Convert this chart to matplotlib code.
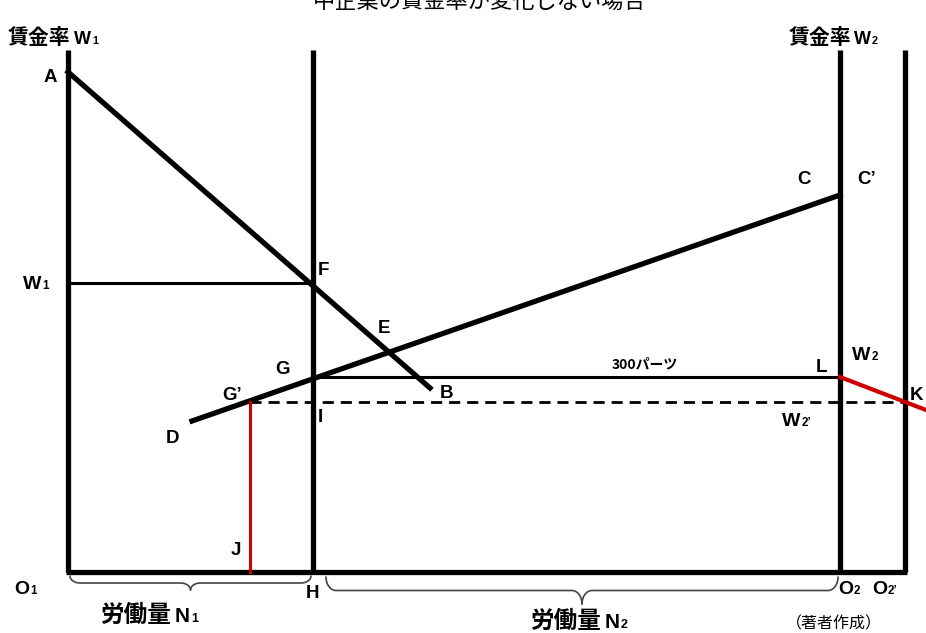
#!/usr/bin/env python3
# plot.py - wage-rate / labour diagram

import matplotlib.pyplot as plt
import numpy as np

plt.rcParams["font.family"] = ["Liberation Sans", "DejaVu Sans"]
JP = ["Noto Sans CJK JP", "DejaVu Sans"]

# diagram points (x right, y down, in pixels)
axis_x = [68, 313, 840, 905]          # O1, H, O2, O2'
axis_top = 50
axis_bottom = 572
line_AB = ([68, 430], [72, 388])
line_DC = ([192, 840], [421, 195])
line_W1F = ([68, 313], [283, 283])
line_GL = ([313, 840], [377, 377])
line_dash = ([250, 905], [402, 402])
red_JG = ([250, 250], [402, 572])
red_LK = ([840, 926], [377, 410])

labels = [
    ("A", 44, 82), ("F", 318, 275), ("E", 378, 333),
    ("G", 275, 374), ("B", 440, 398), ("G\u2019", 222, 400),
    ("D", 166, 443), ("I", 318, 422), ("J", 231, 555),
    ("C", 797, 184), ("C\u2019", 857, 184), ("L", 816, 372),
    ("K", 910, 400), ("H", 306, 598),
]
sub_labels = [
    ("W", "1", 23, 289), ("W", "2", 852, 360), ("W", "2\u2019", 782, 426),
    ("O", "1", 14, 594), ("O", "2", 838, 594), ("O", "2\u2019", 872, 594),
]


def brace(ax, x0, x1, ytop, ytip, lw=1.2):
    # curly brace opening upward, tip pointing down
    xm = (x0 + x1) / 2
    h = ytip - ytop
    r = min(10, (x1 - x0) / 8)
    t = np.linspace(0, np.pi / 2, 20)
    xs = np.concatenate([x0 + r - r * np.cos(t), np.linspace(x0 + r, xm - r, 2),
                         xm - r + r * np.sin(t)])
    ys = np.concatenate([ytop + h * 0.5 * np.sin(t), [ytop + h * 0.5] * 2,
                         ytop + h * 0.5 + h * 0.5 * (1 - np.cos(t))])
    ax.plot(xs, ys, color="#444444", lw=lw, solid_capstyle="round")
    ax.plot(2 * xm - xs, ys, color="#444444", lw=lw, solid_capstyle="round")


def sub_text(ax, main, sub, x, y, size=14):
    t = ax.text(x, y, main, fontsize=size, fontweight="bold", va="baseline")
    r = ax.figure.canvas.get_renderer()
    bb = t.get_window_extent(r)
    x1 = ax.transData.inverted().transform((bb.x1, bb.y0))[0]
    ax.text(x1 + 1, y, sub, fontsize=size * 0.6, fontweight="bold", va="baseline")


def main():
    fig = plt.figure(figsize=(9.26, 6.33), dpi=100)
    ax = fig.add_axes([0, 0, 1, 1])
    ax.set_xlim(0, 926)
    ax.set_ylim(633, 0)
    ax.axis("off")

    thick = 3.8
    for x in axis_x:
        ax.plot([x, x], [axis_top, axis_bottom], color="black", lw=thick,
                solid_capstyle="butt")
    ax.plot([axis_x[0] - 2, axis_x[-1] + 2], [axis_bottom, axis_bottom],
            color="black", lw=thick, solid_capstyle="butt")

    ax.plot(*line_AB, color="black", lw=thick)
    ax.plot(*line_DC, color="black", lw=thick)
    ax.plot(*line_W1F, color="black", lw=2.2)
    ax.plot(*line_GL, color="black", lw=2.2)
    ax.plot(*line_dash, color="black", lw=2.0, ls=(0, (4, 2.5)))
    ax.plot(*red_JG, color="#cc0000", lw=2.2)
    ax.plot(*red_LK, color="#cc0000", lw=3.0)

    brace(ax, 70, 311, 576, 590)
    brace(ax, 326, 838, 577, 604)

    for txt, x, y in labels:
        ax.text(x, y, txt, fontsize=13.5, fontweight="bold", va="baseline")
    for m, s, x, y in sub_labels:
        sub_text(ax, m, s, x, y)

    # headers
    ax.text(8, 44, "賃金率", fontsize=15, fontweight="bold", family=JP,
            va="baseline")
    sub_text(ax, "W", "1", 74, 44, size=13)
    ax.text(789, 44, "賃金率", fontsize=15, fontweight="bold", family=JP,
            va="baseline")
    sub_text(ax, "W", "2", 854, 44, size=13)

    ax.text(480, 1, "中企業の賃金率が変化しない場合", fontsize=16, family=JP,
            ha="center", va="center")

    ax.text(612, 368, "300パーツ", fontsize=10, fontweight="bold", family=JP,
            va="baseline")

    ax.text(100, 622, "労働量", fontsize=17, fontweight="bold", family=JP,
            va="baseline")
    sub_text(ax, "N", "1", 175, 622, size=15)
    ax.text(530, 628, "労働量", fontsize=17, fontweight="bold", family=JP,
            va="baseline")
    sub_text(ax, "N", "2", 605, 628, size=15)

    ax.text(786, 628, "（著者作成）", fontsize=11.5, family=JP, va="baseline")

    fig.savefig("out.png", dpi=100)


if __name__ == "__main__":
    main()
